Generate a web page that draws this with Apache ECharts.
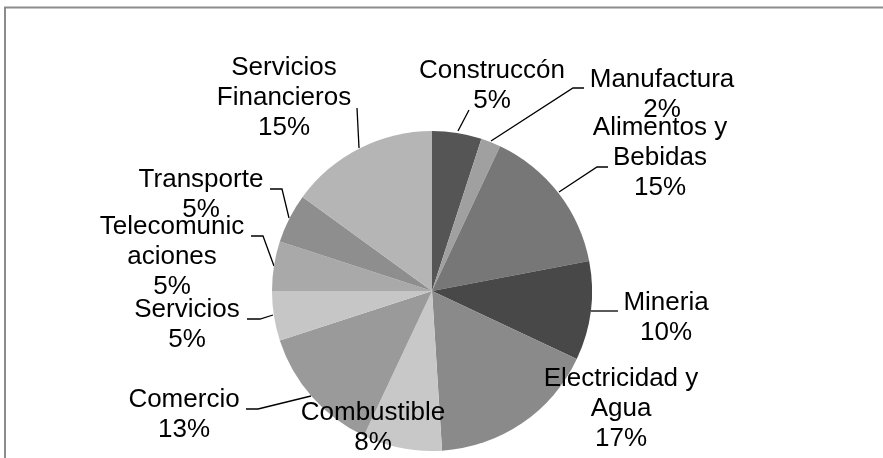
<!DOCTYPE html>
<html>
<head>
<meta charset="utf-8">
<script src="https://cdn.jsdelivr.net/npm/echarts@6/dist/echarts.min.js"></script>
<style>
html,body{margin:0;padding:0;background:#fff;}
#chart{width:883px;height:458px;}
</style>
</head>
<body>
<div id="chart"></div>
<script>
// ---- data ----
const categories = ['Construccón', 'Manufactura', 'Alimentos y\nBebidas', 'Mineria', 'Electricidad y\nAgua',
  'Combustible', 'Comercio', 'Servicios', 'Telecomunic\naciones', 'Transporte', 'Servicios\nFinancieros'];
const shares = [5, 2, 15, 10, 17, 8, 13, 5, 5, 5, 15];

// ---- styling / label placement (not data) ----
const sliceColors = ['#555555', '#a0a0a0', '#777777', '#484848', '#8a8a8a',
  '#c8c8c8', '#9a9a9a', '#c6c6c6', '#a9a9a9', '#8e8e8e', '#b5b5b5'];
const labelCenters = [
  [492, 86], [662, 95], [660, 158], [666, 318], [621, 409],
  [373, 428], [184, 415], [187, 325], [172, 257], [201, 195], [284, 98]
];
const leaderLines = [
  [[458, 131], [469, 110]],
  [[491, 141], [573, 88], [584, 88]],
  [[559, 192], [597, 167], [608, 167]],
  [[591, 311], [618, 311]],
  null,
  null,
  [[311, 396], [258, 409], [246, 409]],
  [[273, 315], [260, 319], [247, 319]],
  [[274, 266], [263, 236], [251, 236]],
  [[289, 218], [282, 189], [270, 189]],
  [[359, 148], [357, 108]]
];

const chart = echarts.init(document.getElementById('chart'), null, {renderer: 'canvas'});
chart.setOption({
  animation: false,
  backgroundColor: '#ffffff',
  graphic: [{
    type: 'rect',
    shape: {x: 5, y: 7.5, width: 1000, height: 1000},
    style: {fill: 'none', stroke: '#8c8c8c', lineWidth: 2},
    silent: true,
    z: 0
  }],
  series: [{
    type: 'pie',
    center: [432, 291],
    radius: 160,
    startAngle: 90,
    clockwise: true,
    avoidLabelOverlap: false,
    data: categories.map((c, i) => ({
      name: c,
      value: shares[i],
      itemStyle: {color: sliceColors[i]},
      labelLine: {show: !!leaderLines[i]}
    })),
    label: {
      show: true,
      position: 'outside',
      formatter: '{b}\n{c}%',
      fontFamily: 'Liberation Sans, Arial, sans-serif',
      fontSize: 26,
      lineHeight: 30,
      color: '#000',
      align: 'center'
    },
    labelLine: {
      show: true,
      length: 10,
      length2: 10,
      lineStyle: {color: '#000', width: 1.3}
    },
    labelLayout: function (params) {
      const i = params.dataIndex;
      const out = {
        x: labelCenters[i][0],
        y: labelCenters[i][1],
        align: 'center',
        verticalAlign: 'middle'
      };
      if (leaderLines[i]) out.labelLinePoints = leaderLines[i];
      return out;
    },
    emphasis: {disabled: true}
  }]
});
</script>
</body>
</html>
